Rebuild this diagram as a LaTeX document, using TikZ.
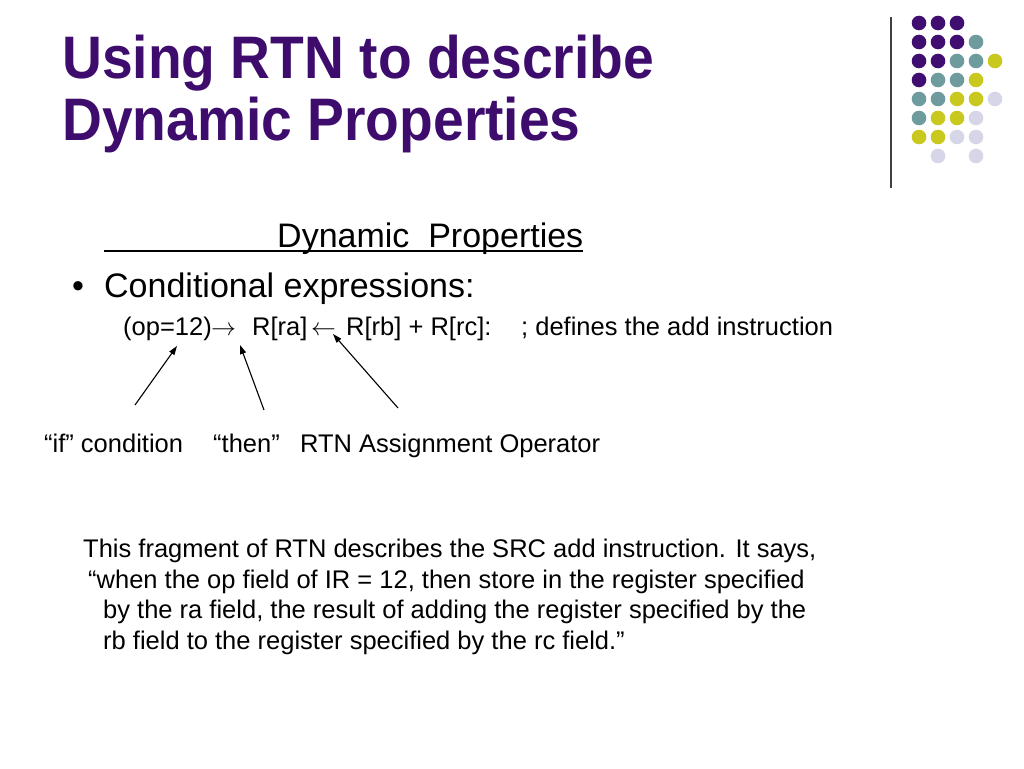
\documentclass[tikz,border=0pt]{standalone}
\usepackage{fontspec}
\setmainfont{Liberation Sans}
\newfontfamily\titlefont[FakeStretch=0.92]{Liberation Sans}
\usetikzlibrary{arrows.meta}

\definecolor{titlepurple}{RGB}{62,12,108}
\definecolor{dotpurple}{RGB}{64,14,112}
\definecolor{dotteal}{RGB}{110,156,158}
\definecolor{dotyellow}{RGB}{200,200,30}
\definecolor{dotlilac}{RGB}{214,214,232}

\tikzset{
    ttl/.style={anchor=base west, inner sep=0pt, text=titlepurple, font=\titlefont\fontsize{60}{62}\bfseries\selectfont},
    big/.style={anchor=base west, inner sep=0pt, font=\fontsize{34}{40}\selectfont},
    txt/.style={anchor=base west, inner sep=0pt, font=\fontsize{25.5}{30}\selectfont},
    pointer/.style={-{Triangle[length=9pt,width=6pt]}, line width=1.1pt},
}

\begin{document}
\begin{tikzpicture}[x=1pt,y=-1pt]
                \useasboundingbox (0,0) rectangle (1024,768);
                % title
                \node[ttl] (title1) at (62,78) {Using RTN to describe};
                \node[ttl] (title2) at (62,140) {Dynamic Properties};
                % corner dots
                \draw[black!75, line width=1.2pt] (891,17) -- (891,188);
                \fill[dotpurple] (919,23) circle (7.3) (938,23) circle (7.3) (957,23) circle (7.3)
                    (919,42) circle (7.3) (938,42) circle (7.3) (957,42) circle (7.3)
                    (919,61) circle (7.3) (938,61) circle (7.3) (919,80) circle (7.3);
                \fill[dotteal] (976,42) circle (7.3) (957,61) circle (7.3) (976,61) circle (7.3)
                    (938,80) circle (7.3) (957,80) circle (7.3) (919,99) circle (7.3)
                    (938,99) circle (7.3) (919,118) circle (7.3);
                \fill[dotyellow] (995,61) circle (7.3) (976,80) circle (7.3) (957,99) circle (7.3)
                    (976,99) circle (7.3) (938,118) circle (7.3) (957,118) circle (7.3)
                    (919,137) circle (7.3) (938,137) circle (7.3);
                \fill[dotlilac] (995,99) circle (7.3) (976,118) circle (7.3) (957,137) circle (7.3)
                    (976,137) circle (7.3) (938,156) circle (7.3) (976,156) circle (7.3);
                % heading and bullet
                \node[big] (heading) at (277,247) {Dynamic\ \ Properties};
                \draw[line width=1.6pt] (104,251) -- (583,251);
                \node[big] (dot) at (72,297) {\textbullet};
                \node[big] (cond) at (104,297) {Conditional expressions:};
                % the RTN line
                \node[txt] (guard) at (123,335) {(op=12)};
                \node[txt] (then) at (211,335) {$\rightarrow$};
                \node[txt] (ra) at (252,335) {R[ra]};
                \node[txt] (assign) at (311,335) {$\leftarrow$};
                \node[txt] (sum) at (346,335) {R[rb] + R[rc]:};
                \node[txt] (remark) at (521,335) {; defines the add instruction};
                % labels
                \node[txt] (iflbl) at (44,452) {“if” condition};
                \node[txt] (thenlbl) at (213,452) {“then”};
                \node[txt] (oplbl) at (300,452) {RTN Assignment Operator};
                \coordinate (ifTail) at (135,405);
                \coordinate (ifTip) at (177,346);
                \coordinate (thenTail) at (264,410);
                \coordinate (thenTip) at (240,345);
                \coordinate (opTail) at (398,408);
                \coordinate (opTip) at (333,334);
                \draw[pointer] (ifTail) -- (ifTip);
                \draw[pointer] (thenTail) -- (thenTip);
                \draw[pointer] (opTail) -- (opTip);
                % explanation
                \node[txt] (para1) at (83,557) {This fragment of RTN describes the SRC add instruction. It says,};
                \node[txt] (para2) at (88,588) {“when the op field of IR = 12, then store in the register specified};
                \node[txt] (para3) at (103,618) {by the ra field, the result of adding the register specified by the};
                \node[txt] (para4) at (103,649) {rb field to the register specified by the rc field.”};
            \end{tikzpicture}
\end{document}
